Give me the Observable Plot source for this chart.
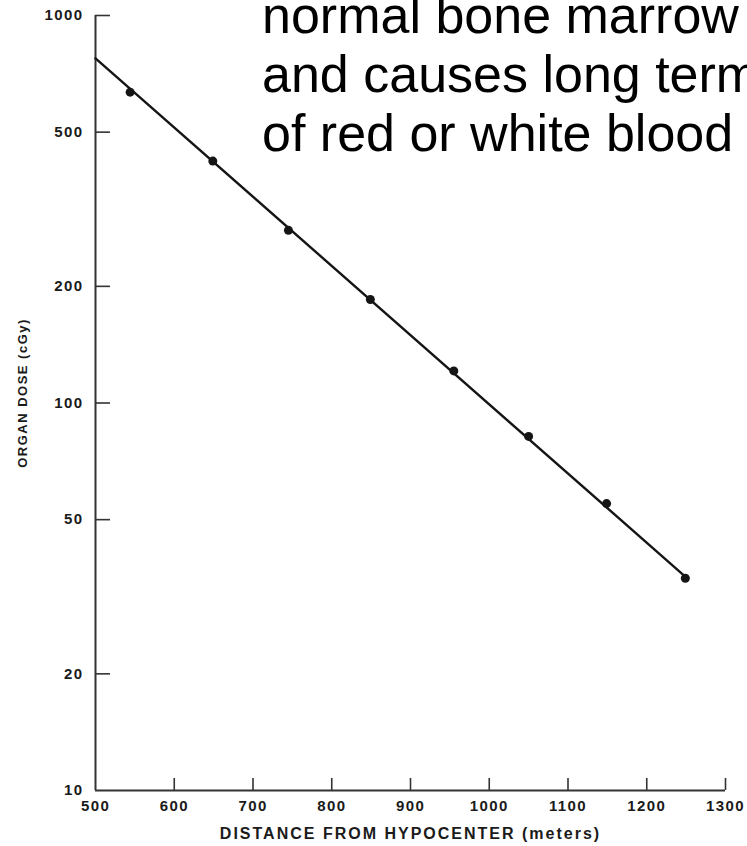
<!DOCTYPE html>
<html>
<head>
<meta charset="utf-8">
<script src="https://cdn.jsdelivr.net/npm/d3@7"></script>
<script src="https://cdn.jsdelivr.net/npm/@observablehq/plot@0.6"></script>
<style>
  html, body { margin: 0; padding: 0; background: #fff; overflow: hidden; }
  #wrap { position: relative; width: 747px; height: 846px; overflow: hidden; }
  #overlay {
    position: absolute; left: 262px; top: -14px;
    font-family: "Liberation Sans", Arial, sans-serif; font-size: 52px; line-height: 59px;
    color: #000; white-space: nowrap;
  }
</style>
</head>
<body>
<div id="wrap">
  <div id="chart"></div>
  <div id="overlay">normal bone marrow<br>and causes long term<br>of red or white blood</div>
</div>
<script>
// Measured points
const distance = [544, 649, 745, 849, 955, 1050, 1149, 1249];
const dose = [634, 421, 279, 185, 121, 82, 55, 35.3];
// Fitted line end points
const lineDistance = [500, 1250];
const lineDose = [775, 35.5];
// Ticks
const xTicks = [500, 600, 700, 800, 900, 1000, 1100, 1200, 1300];
const xTickMarks = [600, 700, 800, 900, 1000, 1100, 1200, 1300];
const yTicks = [10, 20, 50, 100, 200, 500, 1000];
const yTickMarks = [20, 50, 100, 200, 500, 1000];
const xLabel = "DISTANCE FROM HYPOCENTER (meters)";
const yLabel = "ORGAN DOSE (cGy)";

const points = distance.map((d, i) => ({x: d, y: dose[i]}));
const fit = lineDistance.map((d, i) => ({x: d, y: lineDose[i]}));

const ink = "#151515";
const font = "Liberation Sans, Arial, sans-serif";

const chart = Plot.plot({
  width: 747,
  height: 846,
  marginLeft: 95,
  marginRight: 22,
  marginTop: 15,
  marginBottom: 56,
  style: {background: "#fff", fontFamily: font},
  x: {domain: [500, 1300]},
  y: {type: "log", domain: [10, 1000]},
  marks: [
    Plot.ruleX([500], {stroke: "#333", strokeWidth: 2}),
    Plot.ruleY([10], {stroke: "#333", strokeWidth: 2}),
    Plot.axisX(xTickMarks, {tickSize: -12, tickFormat: () => "", stroke: "#333", strokeWidth: 1.6, label: null}),
    Plot.axisX(xTicks, {tickSize: 0, tickPadding: 10, tickFormat: d => String(d), label: null, fontSize: 15, fontWeight: "bold", fill: "#1a1a1a"}),
    Plot.axisY(yTickMarks, {tickSize: -15, tickFormat: () => "", stroke: "#333", strokeWidth: 1.6, label: null}),
    Plot.axisY(yTicks, {tickSize: 0, tickPadding: 12, tickFormat: d => String(d), label: null, fontSize: 15, fontWeight: "bold", fill: "#1a1a1a"}),
    Plot.line(fit, {x: "x", y: "y", stroke: ink, strokeWidth: 2.4}),
    Plot.dot(points, {x: "x", y: "y", r: 4.5, fill: ink, stroke: "none"}),
    Plot.text([xLabel], {frameAnchor: "bottom", dy: 48, text: d => d, fontSize: 16, fontWeight: "bold", fill: "#1a1a1a", textAnchor: "middle"}),
    Plot.text([yLabel], {frameAnchor: "left", dx: -73, dy: -10, rotate: -90, text: d => d, fontSize: 13, fontWeight: "bold", fill: "#1a1a1a", textAnchor: "middle"})
  ]
});
document.getElementById("chart").appendChild(chart);

// letter spacing and size to mimic the wide lettering of the scan
const sel = d3.select(chart);
sel.selectAll("text").each(function () {
  const t = this.textContent;
  const s = d3.select(this);
  if (t === xLabel) s.style("letter-spacing", "2px");
  else if (t === yLabel) s.style("letter-spacing", "1.5px");
  else if (/^\d+$/.test(t)) s.style("letter-spacing", "1.4px").style("font-size", "15px");
});
</script>
</body>
</html>
